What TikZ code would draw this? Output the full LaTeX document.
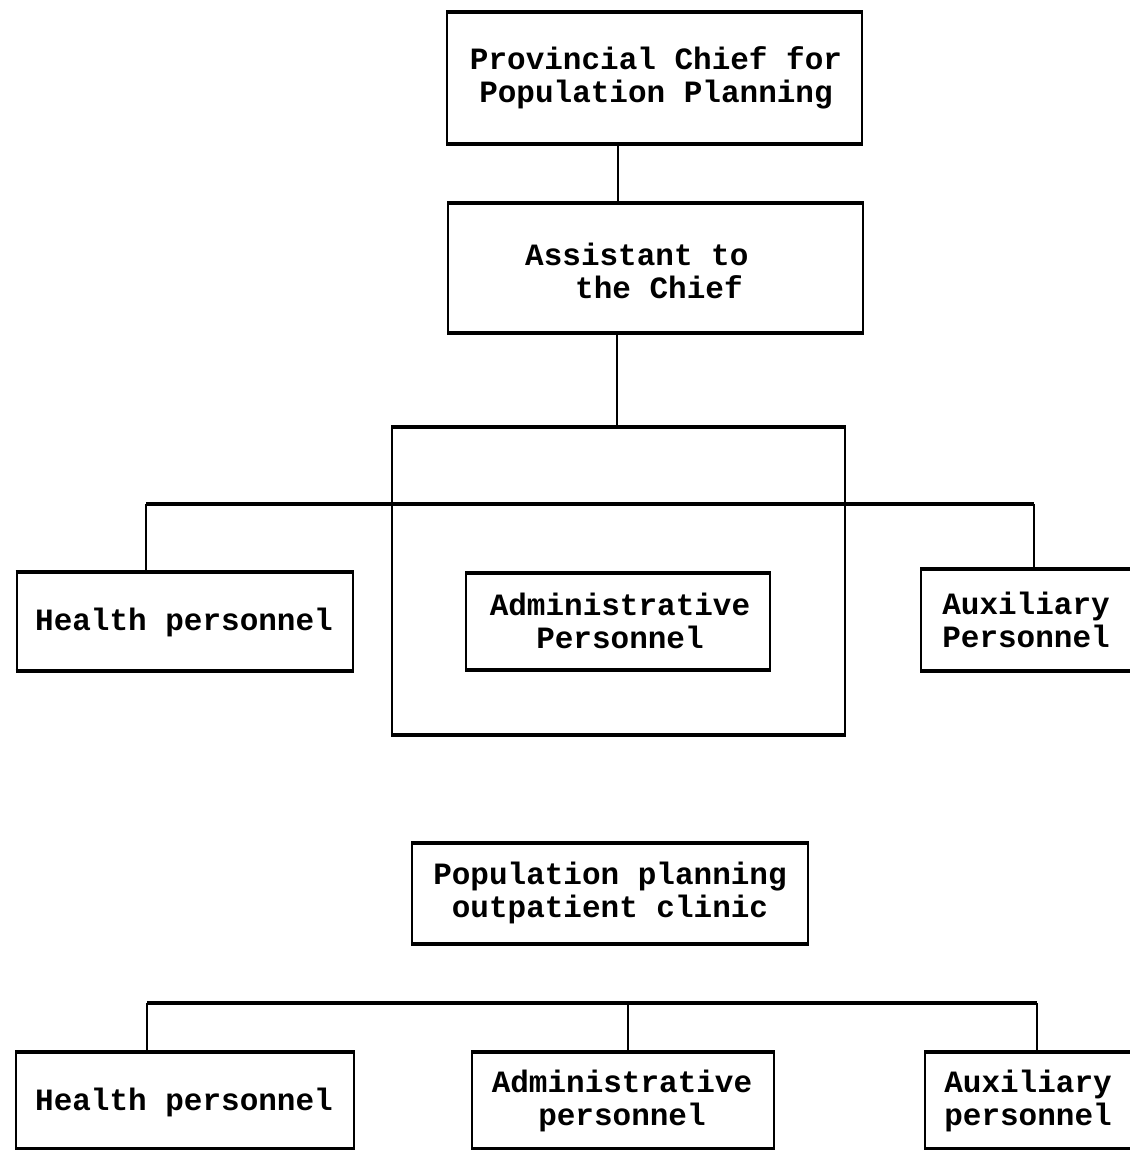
\documentclass[tikz,border=0pt]{standalone}
\usepackage{fontspec}
\setmonofont{Liberation Mono}
\begin{document}
\begin{tikzpicture}[x=1pt,y=-1pt,
  box/.style={draw, line width=2pt, inner sep=0pt},
  heavy/.style={line width=4.5pt},
  conn/.style={line width=1.8pt},
  bar/.style={line width=4.5pt},
  lbl/.style={font=\ttfamily\bfseries\fontsize{31}{33}\selectfont, align=center, inner sep=0pt}]
\useasboundingbox[fill=white] (0,0) rectangle (1129,1150);
\newcommand{\heavyedges}[1]{%
  \draw[heavy] (#1.north west) -- (#1.north east);
  \draw[heavy] (#1.south west) -- (#1.south east);}
% boxes
\node[box, minimum width=415pt, minimum height=130pt] (chief) at (654.5,78) {};
\node[box, minimum width=415pt, minimum height=128pt] (assist) at (655.5,268) {};
\node[box, minimum width=453pt, minimum height=306pt] (frame) at (618.5,581) {};
\node[box, minimum width=336pt, minimum height=97pt] (health1) at (184.5,621.5) {};
\node[box, minimum width=304pt, minimum height=95pt] (admin1) at (618,621.5) {};
\node[box, minimum width=215pt, minimum height=100pt] (aux1) at (1028.5,620) {};
\node[box, minimum width=396pt, minimum height=99pt] (clinic) at (610,893.5) {};
\node[box, minimum width=338pt, minimum height=95pt] (health2) at (185,1100.5) {};
\node[box, minimum width=302pt, minimum height=95pt] (admin2) at (623,1100.5) {};
\node[box, minimum width=210pt, minimum height=95pt] (aux2) at (1030,1100.5) {};
\foreach \b in {chief,assist,frame,health1,admin1,aux1,clinic,health2,admin2,aux2}{\heavyedges{\b}}
% texts
\node[lbl] (tchief) at (656,78) {Provincial Chief for\\Population Planning};
\node[lbl, align=left, anchor=west] (tassist) at (525,271) {Assistant to\\\hspace{50pt}the Chief};
\node[lbl] (thealth1) at (184,622) {Health personnel};
\node[lbl] (tadmin1) at (620,621) {Administrative\\Personnel};
\node[lbl] (taux1) at (1026,620) {Auxiliary\\Personnel};
\node[lbl] (tclinic) at (610,893) {Population planning\\outpatient clinic};
\node[lbl] (thealth2) at (184,1102) {Health personnel};
\node[lbl] (tadmin2) at (622,1101) {Administrative\\personnel};
\node[lbl] (taux2) at (1028,1101) {Auxiliary\\personnel};
% upper tree
\coordinate (barL) at (146,504);
\coordinate (barR) at (1034,504);
\draw[conn] (chief.south -| 618,0) -- (assist.north -| 618,0);
\draw[conn] (assist.south -| 617,0) -- (frame.north -| 617,0);
\draw[bar] (barL) -- (barR);
\draw[conn] (barL) -- (barL |- health1.north);
\draw[conn] (barR) -- (barR |- aux1.north);
% lower tree
\coordinate (barL2) at (147,1003);
\coordinate (barR2) at (1037,1003);
\coordinate (barM2) at (628,1003);
\draw[bar] (barL2) -- (barR2);
\draw[conn] (barL2) -- (barL2 |- health2.north);
\draw[conn] (barM2) -- (barM2 |- admin2.north);
\draw[conn] (barR2) -- (barR2 |- aux2.north);
\end{tikzpicture}
\end{document}
